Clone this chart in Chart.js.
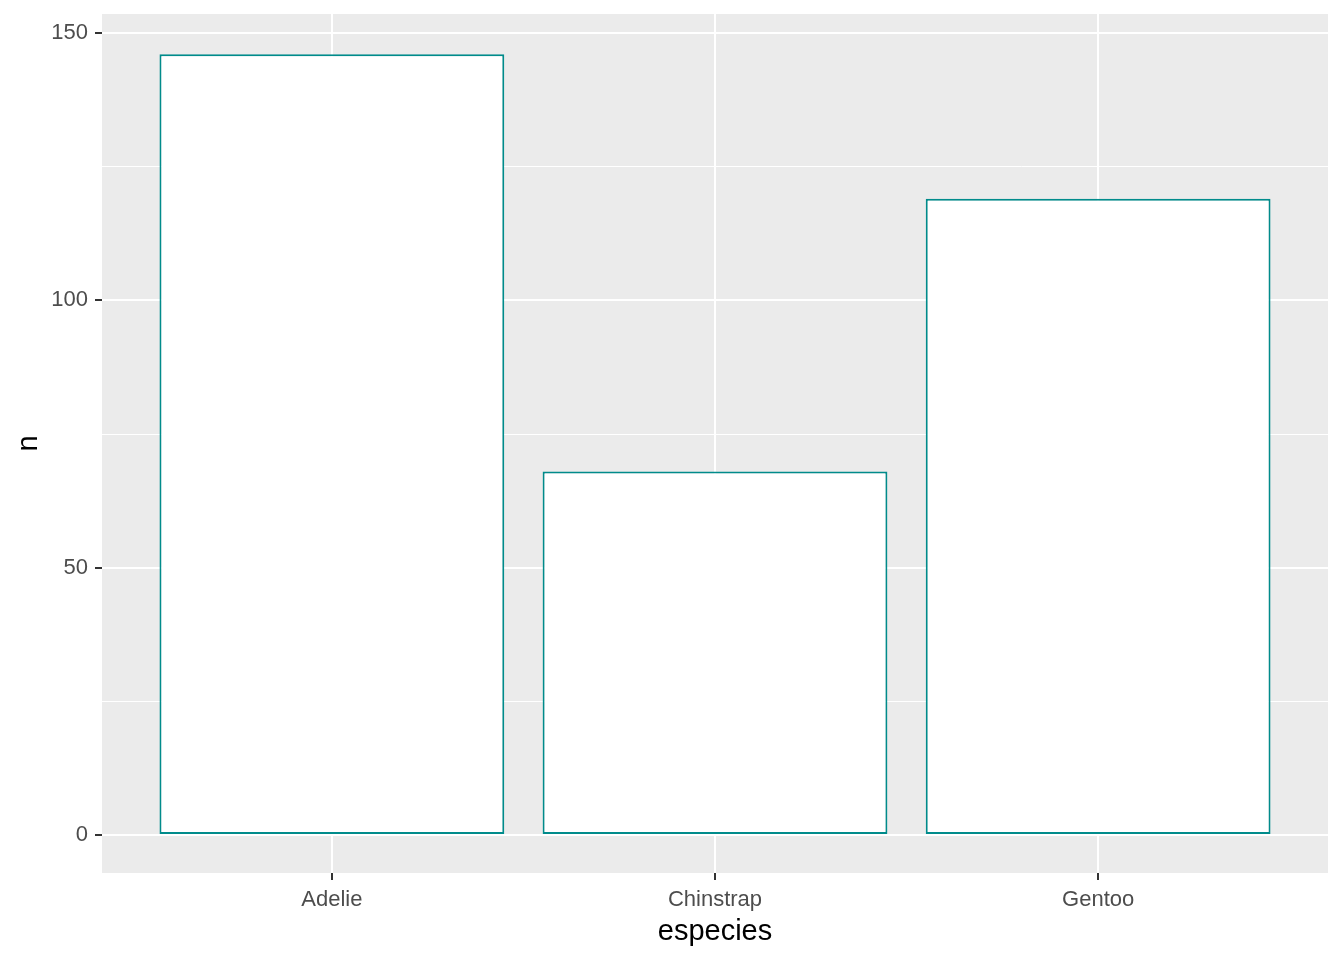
<!DOCTYPE html>
<html lang="es">
<head>
    <meta charset="UTF-8">
    <title>Pingüinos por especie</title>
    <script src="https://cdn.jsdelivr.net/npm/chart.js"></script>
    <style>
        html, body {
            margin: 0;
            padding: 0;
            background: #ffffff;
        }
        canvas {
            display: block;
        }
    </style>
</head>
<body>
    <canvas id="barChart" width="1344" height="960"></canvas>

    <script>
        // datos
        const especies = ['Adelie', 'Chinstrap', 'Gentoo'];
        const conteos = [146, 68, 119];
        const yTicks = [0, 25, 50, 75, 100, 125, 150];
        const yLabelTicks = [0, 50, 100, 150];

        // fondo gris del panel, como ggplot
        const panelBg = {
            id: 'panelBg',
            beforeDraw(chart) {
                const { ctx, chartArea: a } = chart;
                ctx.save();
                ctx.fillStyle = '#EBEBEB';
                ctx.fillRect(a.left, a.top, a.right - a.left, a.bottom - a.top);
                ctx.restore();
            }
        };

        const ctx = document.getElementById('barChart').getContext('2d');
        new Chart(ctx, {
            type: 'bar',
            data: {
                datasets: [{
                    label: 'n',
                    data: especies.map((e, i) => ({ x: i + 1, y: conteos[i] })),
                    backgroundColor: '#FFFFFF',
                    borderColor: '#008B8B',
                    borderWidth: 2,
                    borderSkipped: false,
                    categoryPercentage: 0.9,
                    barPercentage: 1.0
                }]
            },
            options: {
                responsive: false,
                devicePixelRatio: 1,
                animation: false,
                layout: {
                    padding: { top: 14, right: 16, left: 0, bottom: 0 }
                },
                plugins: {
                    legend: { display: false },
                    tooltip: { enabled: false }
                },
                scales: {
                    x: {
                        type: 'linear',
                        min: 0.4,
                        max: 3.6,
                        offset: false,
                        afterBuildTicks: (scale) => {
                            scale.ticks = especies.map((e, i) => ({ value: i + 1 }));
                        },
                        afterFit: (scale) => {
                            scale.height = 87;
                            scale.paddingLeft = 0;
                            scale.paddingRight = 0;
                        },
                        grid: {
                            offset: false,
                            color: '#FFFFFF',
                            lineWidth: 2,
                            tickColor: '#333333',
                            tickLength: 7,
                            tickWidth: 2
                        },
                        border: { display: false },
                        ticks: {
                            color: '#4D4D4D',
                            font: { family: 'Liberation Sans', size: 22 },
                            padding: 7,
                            maxRotation: 0,
                            autoSkip: false,
                            callback: (v) => especies[v - 1] || ''
                        },
                        title: {
                            display: true,
                            text: 'especies',
                            color: '#000000',
                            font: { family: 'Liberation Sans', size: 29 },
                            padding: { top: 0, bottom: 11 }
                        }
                    },
                    y: {
                        min: -7.1,
                        max: 153.55,
                        afterBuildTicks: (scale) => {
                            scale.ticks = yTicks.map(v => ({ value: v }));
                        },
                        afterFit: (scale) => {
                            scale.width = 102;
                            scale.paddingTop = 0;
                            scale.paddingBottom = 0;
                        },
                        grid: {
                            color: '#FFFFFF',
                            lineWidth: (c) => yLabelTicks.includes(c.tick.value) ? 2 : 1,
                            tickColor: (c) => yLabelTicks.includes(c.tick.value) ? '#333333' : 'rgba(0,0,0,0)',
                            tickLength: 7,
                            tickWidth: 2
                        },
                        border: { display: false },
                        ticks: {
                            color: '#4D4D4D',
                            font: { family: 'Liberation Sans', size: 22 },
                            padding: 7,
                            autoSkip: false,
                            callback: (v) => yLabelTicks.includes(v) ? String(v) : ''
                        },
                        title: {
                            display: true,
                            text: 'n',
                            color: '#000000',
                            font: { family: 'Liberation Sans', size: 29 },
                            padding: { top: 12, bottom: 0 }
                        }
                    }
                }
            },
            plugins: [panelBg]
        });
    </script>
</body>
</html>
